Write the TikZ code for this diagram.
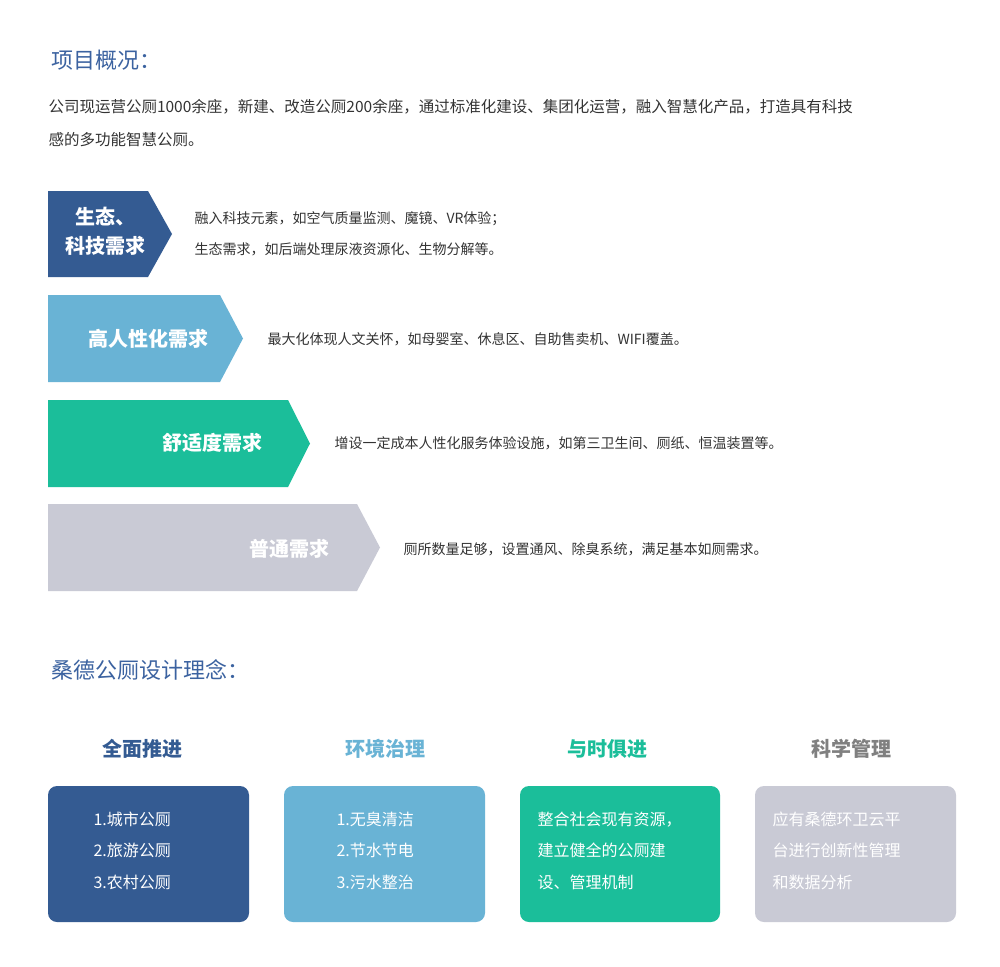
\documentclass[tikz,border=0pt]{standalone}
\usepackage{fontspec}
\setmainfont{Noto Sans CJK SC}
\definecolor{cdark}{HTML}{345B92}
\definecolor{clight}{HTML}{69B3D5}
\definecolor{cteal}{HTML}{1BBE9A}
\definecolor{cgray}{HTML}{C9CAD5}
\definecolor{ctitle}{HTML}{3B62A0}
\definecolor{ctext}{HTML}{333333}
\begin{document}
\begin{tikzpicture}[x=1pt,y=-1pt,
  title/.style={anchor=west,text=ctitle,font=\fontsize{22}{26}\selectfont},
  para/.style={anchor=west,text=ctext,font=\fontsize{15.5}{20}\selectfont},
  desc/.style={anchor=west,text=ctext,font=\fontsize{14}{18}\selectfont},
  lab/.style={text=white,font=\fontsize{20}{24}\selectfont\bfseries},
  head/.style={font=\fontsize{20}{24}\selectfont\bfseries},
  boxtxt/.style={anchor=north west,text=white,align=left,font=\fontsize{16}{31.5}\selectfont},
  card/.style={rounded corners=9pt}]
\useasboundingbox (0,0) rectangle (1000,966);
\fill[white] (0,0) rectangle (1000,966);
\node[title] (t1) at (48,60) {项目概况：};
\node[para] (p1) at (45,107) {公司现运营公厕1000余座，新建、改造公厕200余座，通过标准化建设、集团化运营，融入智慧化产品，打造具有科技};
\node[para] (p2) at (45,140) {感的多功能智慧公厕。};
% arrows
\fill[cdark] (48,191) -- (148,191) -- (172,234) -- (148,277) -- (48,277) -- cycle;
\node[lab,align=center,font=\fontsize{20}{29}\selectfont\bfseries] (a1) at (105,231) {生态、\\科技需求};
\node[desc] (d1a) at (191,219) {融入科技元素，如空气质量监测、魔镜、VR体验；};
\node[desc] (d1b) at (191,249) {生态需求，如后端处理尿液资源化、生物分解等。};
\fill[clight] (48,295) -- (220,295) -- (243,338.5) -- (220,382) -- (48,382) -- cycle;
\node[lab] (a2) at (148,339) {高人性化需求};
\node[desc] (d2) at (264,339) {最大化体现人文关怀，如母婴室、休息区、自助售卖机、WIFI覆盖。};
\fill[cteal] (48,400) -- (288,400) -- (310,443.5) -- (288,487) -- (48,487) -- cycle;
\node[lab] (a3) at (212,443) {舒适度需求};
\node[desc] (d3) at (331,443) {增设一定成本人性化服务体验设施，如第三卫生间、厕纸、恒温装置等。};
\fill[cgray] (48,504) -- (357,504) -- (380,547.5) -- (357,591) -- (48,591) -- cycle;
\node[lab] (a4) at (289,549) {普通需求};
\node[desc] (d4) at (400,549) {厕所数量足够，设置通风、除臭系统，满足基本如厕需求。};
\node[title] (t2) at (48,670) {桑德公厕设计理念：};
% headings
\node[head,text=cdark] (h1) at (142,749) {全面推进};
\node[head,text=clight] (h2) at (385,749) {环境治理};
\node[head,text=cteal] (h3) at (607,749) {与时俱进};
\node[head,text=gray] (h4) at (851,749) {科学管理};
% cards
\fill[card,cdark] (48,786) rectangle (249,922);
\fill[card,clight] (284,786) rectangle (485,922);
\fill[card,cteal] (520,786) rectangle (720,922);
\fill[card,cgray] (755,786) rectangle (956,922);
\node[boxtxt] (b1) at (90,808) {1.城市公厕\\2.旅游公厕\\3.农村公厕};
\node[boxtxt] (b2) at (333,808) {1.无臭清洁\\2.节水节电\\3.污水整治};
\node[boxtxt] (b3) at (534,808) {整合社会现有资源，\\建立健全的公厕建\\设、管理机制};
\node[boxtxt] (b4) at (769,808) {应有桑德环卫云平\\台进行创新性管理\\和数据分析};
\end{tikzpicture}
\end{document}
